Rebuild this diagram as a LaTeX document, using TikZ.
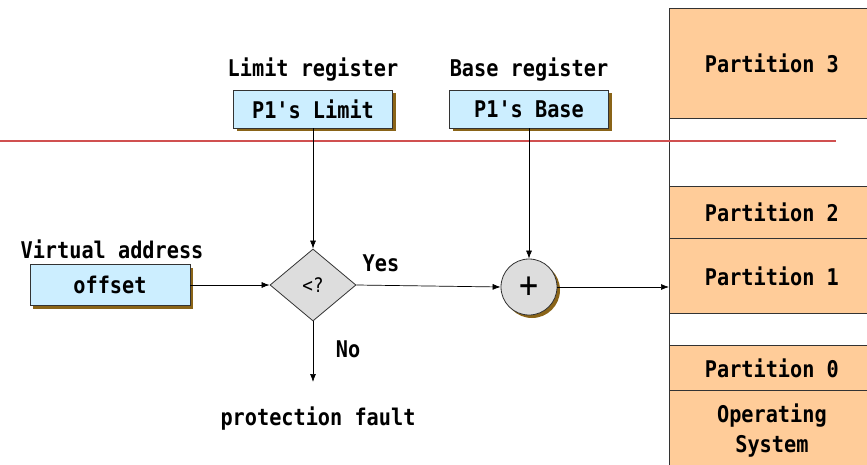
\documentclass[tikz,border=0pt]{standalone}
\usepackage{fontspec}
\setmonofont[FakeStretch=0.88]{DejaVu Sans Mono}
\usetikzlibrary{shapes.geometric,arrows.meta}
\definecolor{regfill}{HTML}{CCEEFF}
\definecolor{shadowc}{HTML}{8A6418}
\definecolor{partfill}{HTML}{FFCC99}
\definecolor{opfill}{HTML}{DDDDDD}
\definecolor{boundred}{RGB}{208,80,80}
\tikzset{
  lbl/.style={font=\ttfamily\bfseries\fontsize{23}{30}\selectfont, inner sep=0pt},
  freelbl/.style={lbl, yshift=-2pt},
  shadowed/.style={preaction={fill=shadowc, transform canvas={xshift=3pt,yshift=-3pt}}},
  regbox/.style={lbl, draw=black!80, fill=regfill, shadowed, line width=0.8pt,
                 minimum width=159pt, minimum height=38pt},
  part/.style={lbl, draw=black!80, fill=partfill, line width=0.8pt, anchor=north west,
               minimum width=205pt, align=center},
  gap/.style={draw=black!80, fill=white, line width=0.8pt, anchor=north west,
              minimum width=205pt, inner sep=0pt},
  flow/.style={line width=0.7pt, -{Latex[length=8pt,width=6pt]}},
}
\begin{document}
\begin{tikzpicture}[x=1pt,y=-1pt]
\useasboundingbox (0,0) rectangle (867,465);

% memory partitions
\node[part, minimum height=110pt] (p3) at (669,8) {Partition 3};
\node[gap, minimum height=68pt] (g1) at (669,118) {};
\node[part, minimum height=52pt] (p2) at (669,186) {Partition 2};
\node[part, minimum height=75pt] (p1) at (669,238) {Partition 1};
\node[gap, minimum height=32pt] (g0) at (669,313) {};
\node[part, minimum height=45pt] (p0) at (669,345) {Partition 0};
\node[part, minimum height=80pt] (os) at (669,390) {Operating\\System};

% boundary line
\coordinate (cl) at (0,141);
\coordinate (cr) at (836,141);
\draw[draw=boundred, line width=1.6pt] (cl) -- (cr);

% registers
\node[freelbl] (limlbl) at (313,68) {Limit register};
\node[regbox] (lim) at (313,109) {P1's Limit};
\node[freelbl] (baselbl) at (529,68) {Base register};
\node[regbox] (base) at (529,109) {P1's Base};

% virtual address
\node[freelbl] (valbl) at (112,247) {Virtual address};
\node[regbox, minimum width=160pt, minimum height=41pt] (off) at (110,285) {offset};

% comparison and addition
\node[diamond, draw=black!80, fill=opfill, line width=0.8pt, inner sep=0pt,
      minimum width=86pt, minimum height=72pt, font=\ttfamily\fontsize{20}{24}\selectfont] (cmp) at (313,285) {<?};
\node[circle, draw=black!80, fill=opfill, shadowed, line width=0.8pt, inner sep=0pt,
      minimum size=56pt, font=\ttfamily\fontsize{36}{36}\selectfont] (add) at (529,287) {+};

% labels on the branches
\node[freelbl] (yes) at (381,261) {Yes};
\node[freelbl] (no) at (348,347) {No};
\node[freelbl] (fault) at (318,417) {protection fault};
\coordinate (faultend) at (313,382);

% connectors
\draw[flow] (lim.south) -- (cmp.north);
\draw[flow] (base.south) -- (add.north);
\draw[flow] (off.east) -- (cmp.west);
\draw[flow] (cmp.east) -- (add.west);
\draw[flow] (add.east) -- (add.east -| p1.west);
\draw[flow] (cmp.south) -- (faultend);
\end{tikzpicture}
\end{document}
